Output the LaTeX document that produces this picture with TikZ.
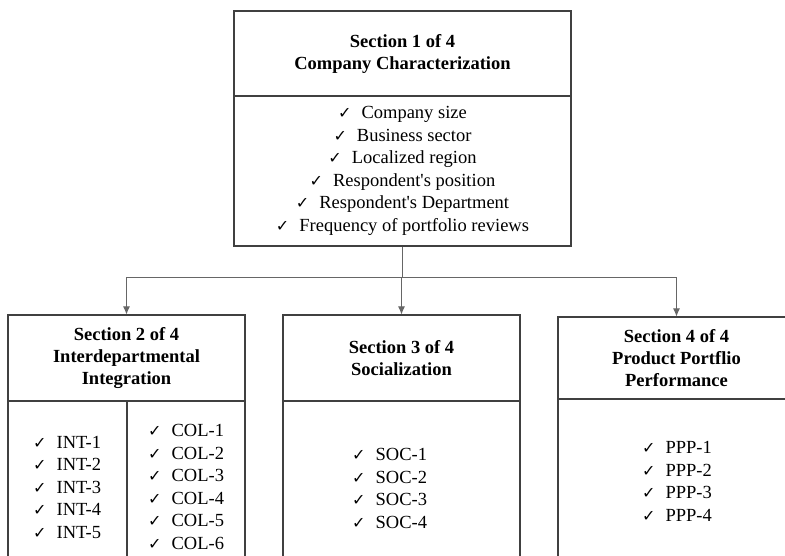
\documentclass[tikz,border=0pt]{standalone}
\usepackage{fontspec}
\setmainfont{Liberation Serif}
\newfontfamily\symfont{DejaVu Sans}
\usetikzlibrary{arrows.meta}
\newcommand{\ck}{{\symfont\fontsize{16}{16}\selectfont ✓}\hspace{10pt}}

\begin{document}
\begin{tikzpicture}[x=1pt,y=1pt,>={Latex[length=8pt,width=7pt]},
  box/.style={draw=black!75,line width=1.1pt,inner sep=0pt},
  head/.style={box,minimum width=237pt,font=\fontsize{18.5}{22}\selectfont\bfseries,align=center},
  items/.style={font=\fontsize{18.5}{22.5}\selectfont,inner sep=0pt,align=left,anchor=west},
  link/.style={draw=black!60,line width=0.8pt}]
\clip (0,0) rectangle (785,556);
\fill[white] (0,0) rectangle (785,556);

% section 1
\node[head,minimum width=337pt,minimum height=85pt] (sec1) at (402.5,502.5)
  {Section 1 of 4\\Company Characterization};
\node[box,minimum width=337pt,minimum height=150pt,align=center,
  font=\fontsize{18.5}{22.5}\selectfont] (sec1list) at (402.5,385)
  {\ck Company size\\ \ck Business sector\\ \ck Localized region\\
   \ck Respondent\textquotesingle s position\\ \ck Respondent\textquotesingle s Department\\
   \ck Frequency of portfolio reviews};

% sections 2 to 4
\node[head,minimum height=86pt] (sec2) at (126.5,198)
  {Section 2 of 4\\Interdepartmental\\Integration};
\node[box,minimum width=119pt,minimum height=175pt] (sec2int) at (67.5,67.5) {};
\node[box,minimum width=118pt,minimum height=175pt] (sec2col) at (186,67.5) {};
\node[head,minimum height=86pt] (sec3) at (401.5,198)
  {Section 3 of 4\\Socialization};
\node[box,minimum width=237pt,minimum height=175pt] (sec3list) at (401.5,67.5) {};
\node[head,minimum height=82pt] (sec4) at (676.5,198)
  {Section 4 of 4\\Product Portflio\\Performance};
\node[box,minimum width=237pt,minimum height=177pt] (sec4list) at (676.5,68.5) {};

\node[items] (int) at (33,69)
  {\ck INT-1\\ \ck INT-2\\ \ck INT-3\\ \ck INT-4\\ \ck INT-5};
\node[items] (col) at (148,69)
  {\ck COL-1\\ \ck COL-2\\ \ck COL-3\\ \ck COL-4\\ \ck COL-5\\ \ck COL-6};
\node[items] (soc) at (352,67.5)
  {\ck SOC-1\\ \ck SOC-2\\ \ck SOC-3\\ \ck SOC-4};
\node[items] (ppp) at (642,74.5)
  {\ck PPP-1\\ \ck PPP-2\\ \ck PPP-3\\ \ck PPP-4};

% connectors
\draw[link] (sec1list.south) -- ++(0,-31) coordinate (hub);
\draw[link,->] (hub) -| (sec2.north);
\draw[link,->] (hub) -| (sec3.north);
\draw[link,->] (hub) -| (sec4.north);
\end{tikzpicture}
\end{document}
